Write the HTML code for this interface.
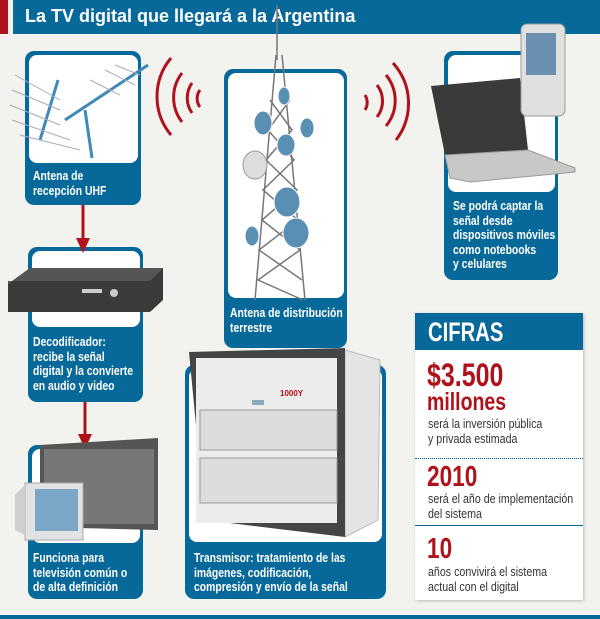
<!DOCTYPE html>
<html><head><meta charset="utf-8"><style>
*{margin:0;padding:0;box-sizing:border-box}
body{width:600px;height:619px;background:#f2f2ee;position:relative;overflow:hidden;font-family:"Liberation Sans",sans-serif}
.a{position:absolute}
.box{position:absolute;background:#07699a;border-radius:9px}
.in{position:absolute;background:#fff;border-radius:8px}
.t{position:absolute;color:#fff;font-weight:bold;font-size:13px;line-height:14.5px;transform:scaleX(0.8);transform-origin:0 0;white-space:nowrap}
.g{color:#333;font-size:13px;line-height:15px;position:absolute;left:13px;transform:scaleX(0.82);transform-origin:0 0;white-space:nowrap}
.r{color:#b0121b;font-weight:bold;position:absolute;left:12px;transform:scaleX(0.78);transform-origin:0 0;white-space:nowrap}
</style></head><body>
<div class="a" style="left:0;top:0;width:8px;height:34px;background:#b0121b"></div>
<div class="a" style="left:13px;top:0;width:587px;height:34px;background:#07699a"></div>
<div class="a" style="left:25px;top:6px;color:#fff;font:bold 18px 'Liberation Sans',sans-serif">La TV digital que llegará a la Argentina</div>

<div class="box" style="left:25px;top:51px;width:116px;height:154px"></div>
<div class="in" style="left:29px;top:55px;width:109px;height:108px"></div>
<div class="t" style="left:33px;top:169px">Antena de<br>recepción UHF</div>

<div class="box" style="left:28px;top:247px;width:115px;height:155px"></div>
<div class="in" style="left:32px;top:251px;width:108px;height:76px"></div>
<div class="t" style="left:33px;top:335px">Decodificador:<br>recibe la señal<br>digital y la convierte<br>en audio y video</div>

<div class="box" style="left:28px;top:445px;width:115px;height:154px"></div>
<div class="in" style="left:32px;top:449px;width:108px;height:94px"></div>
<div class="t" style="left:33px;top:551px">Funciona para<br>televisión común o<br>de alta definición</div>

<div class="box" style="left:224px;top:69px;width:123px;height:279px"></div>
<div class="in" style="left:228px;top:73px;width:116px;height:225px"></div>
<div class="t" style="left:230px;top:306px">Antena de distribución<br>terrestre</div>

<div class="box" style="left:185px;top:365px;width:201px;height:234px"></div>
<div class="in" style="left:189px;top:369px;width:193px;height:173px"></div>
<div class="t" style="left:194px;top:551px">Transmisor: tratamiento de las<br>imágenes, codificación,<br>compresión y envío de la señal</div>

<div class="box" style="left:444px;top:51px;width:114px;height:229px"></div>
<div class="in" style="left:448px;top:55px;width:107px;height:137px"></div>
<div class="t" style="left:453px;top:199px">Se podrá captar la<br>señal desde<br>dispositivos móviles<br>como notebooks<br>y celulares</div>

<svg class="a" style="left:0;top:0" width="600" height="619">
<line x1="83" y1="205" x2="83" y2="240" stroke="#b0121b" stroke-width="3"/>
<polygon points="76,238 90,238 83,253" fill="#b0121b"/>
<line x1="85" y1="402" x2="85" y2="436" stroke="#b0121b" stroke-width="3"/>
<polygon points="78,434 92,434 85,449" fill="#b0121b"/>
<g fill="none" stroke="#b0121b" stroke-width="3">
<path d="M171 58 A60 60 0 0 0 171 135"/>
<path d="M182 73 A40 40 0 0 0 182 122"/>
<path d="M192 83 A26 26 0 0 0 192 113"/>
<path d="M200 90 A14 14 0 0 0 200 107"/>
<path d="M393 63 A60 60 0 0 1 396 140"/>
<path d="M386 75 A40 40 0 0 1 386 126"/>
<path d="M377 85 A26 26 0 0 1 377 117"/>
<path d="M365 95 A14 14 0 0 1 365 110"/>
</g>
<g stroke="#3f88b8" stroke-width="3">
<line x1="58" y1="80" x2="40" y2="140"/><line x1="85" y1="110" x2="92" y2="158"/>
<line x1="65" y1="120" x2="148" y2="65"/>
</g>
<g stroke="#aab" stroke-width="1">
<line x1="15" y1="75" x2="60" y2="100"/><line x1="12" y1="90" x2="60" y2="110"/><line x1="10" y1="105" x2="60" y2="125"/><line x1="12" y1="120" x2="70" y2="140"/><line x1="20" y1="135" x2="80" y2="150"/>
<line x1="90" y1="80" x2="120" y2="95"/><line x1="105" y1="70" x2="135" y2="85"/><line x1="115" y1="65" x2="140" y2="75"/>
</g>
<g stroke="#777" stroke-width="1.5" fill="none">
<line x1="277" y1="5" x2="277" y2="60"/>
<path d="M276 55 L255 300 M282 55 L305 300"/>
<path d="M270 100 L292 130 L266 160 L297 190 L262 220 L300 250 L258 280 L303 300"/>
<path d="M290 100 L268 130 L294 160 L263 190 L298 220 L259 250 L302 280"/>
</g>
<g fill="#5a8fb4" stroke="#fff" stroke-width="1">
<ellipse cx="263" cy="123" rx="9" ry="12"/><ellipse cx="286" cy="145" rx="9" ry="11"/>
<ellipse cx="307" cy="128" rx="7" ry="10"/><ellipse cx="287" cy="202" rx="13" ry="15"/>
<ellipse cx="296" cy="233" rx="13" ry="15"/><ellipse cx="252" cy="236" rx="7" ry="10"/>
<ellipse cx="284" cy="96" rx="6" ry="9"/>
</g>
<ellipse cx="255" cy="165" rx="12" ry="14" fill="#ddd" stroke="#999"/>
<polygon points="431,86 520,78 528,150 445,155" fill="#3a3a3a"/>
<polygon points="445,155 528,150 575,168 575,172 470,182 450,178" fill="#c8c8c8" stroke="#999"/>
<rect x="521" y="24" width="44" height="92" rx="6" fill="#e0e0e0" stroke="#999"/>
<rect x="526" y="33" width="30" height="42" fill="#6b8fb0"/>
<polygon points="8,284 30,268 163,268 163,300 150,312 8,312" fill="#3b3b3b"/>
<polygon points="8,284 30,268 163,268 150,281 8,281" fill="#555"/>
<rect x="82" y="289" width="20" height="4" fill="#ccc"/><circle cx="114" cy="293" r="4" fill="#ccc"/>
<polygon points="40,445 158,438 158,530 40,527" fill="#555"/>
<rect x="44" y="449" width="110" height="75" fill="#777"/>
<rect x="25" y="483" width="58" height="57" fill="#e2e2e2" stroke="#aaa"/>
<rect x="35" y="489" width="43" height="42" fill="#7aa6c8"/>
<polygon points="15,495 25,485 25,535 15,530" fill="#cfcfcf"/>
<polygon points="345,350 380,360 378,520 345,537" fill="#e4e4e4" stroke="#bbb"/>
<polygon points="189,352 345,348 345,537 205,520" fill="#454545"/>
<rect x="196" y="358" width="141" height="165" fill="#ececec"/>
<rect x="200" y="410" width="137" height="40" fill="#dcdcdc" stroke="#999"/>
<rect x="200" y="458" width="137" height="45" fill="#dcdcdc" stroke="#999"/>
<rect x="252" y="400" width="12" height="5" fill="#8ab"/>
<text x="280" y="396" font-family="Liberation Sans" font-size="8" fill="#b0121b" font-weight="bold">1000Y</text>
</svg>

<div class="a" style="left:415px;top:313px;width:168px;height:287px;background:#fff;box-shadow:1px 1px 3px #bbb">
 <div class="a" style="left:0;top:0;width:168px;height:37px;background:#07699a"></div>
 <div class="a" style="left:13px;top:4px;color:#fff;font:bold 27px 'Liberation Sans',sans-serif;transform:scaleX(0.75);transform-origin:0 0">CIFRAS</div>
 <div class="r" style="top:45px;font-size:32px;line-height:34px">$3.500</div>
 <div class="r" style="top:76px;font-size:25px;line-height:26px">millones</div>
 <div class="g" style="top:103px">será la inversión pública<br>y privada estimada</div>
 <div class="a" style="left:0;top:145px;width:168px;border-top:1px dotted #07699a"></div>
 <div class="r" style="top:149px;font-size:29px;line-height:30px">2010</div>
 <div class="g" style="top:178px">será el año de implementación<br>del sistema</div>
 <div class="a" style="left:0;top:212px;width:168px;border-top:1px solid #07699a"></div>
 <div class="r" style="top:221px;font-size:29px;line-height:30px">10</div>
 <div class="g" style="top:251px">años convivirá el sistema<br>actual con el digital</div>
</div>
<div class="a" style="left:0;top:615px;width:600px;height:4px;background:#07699a"></div>
</body></html>
